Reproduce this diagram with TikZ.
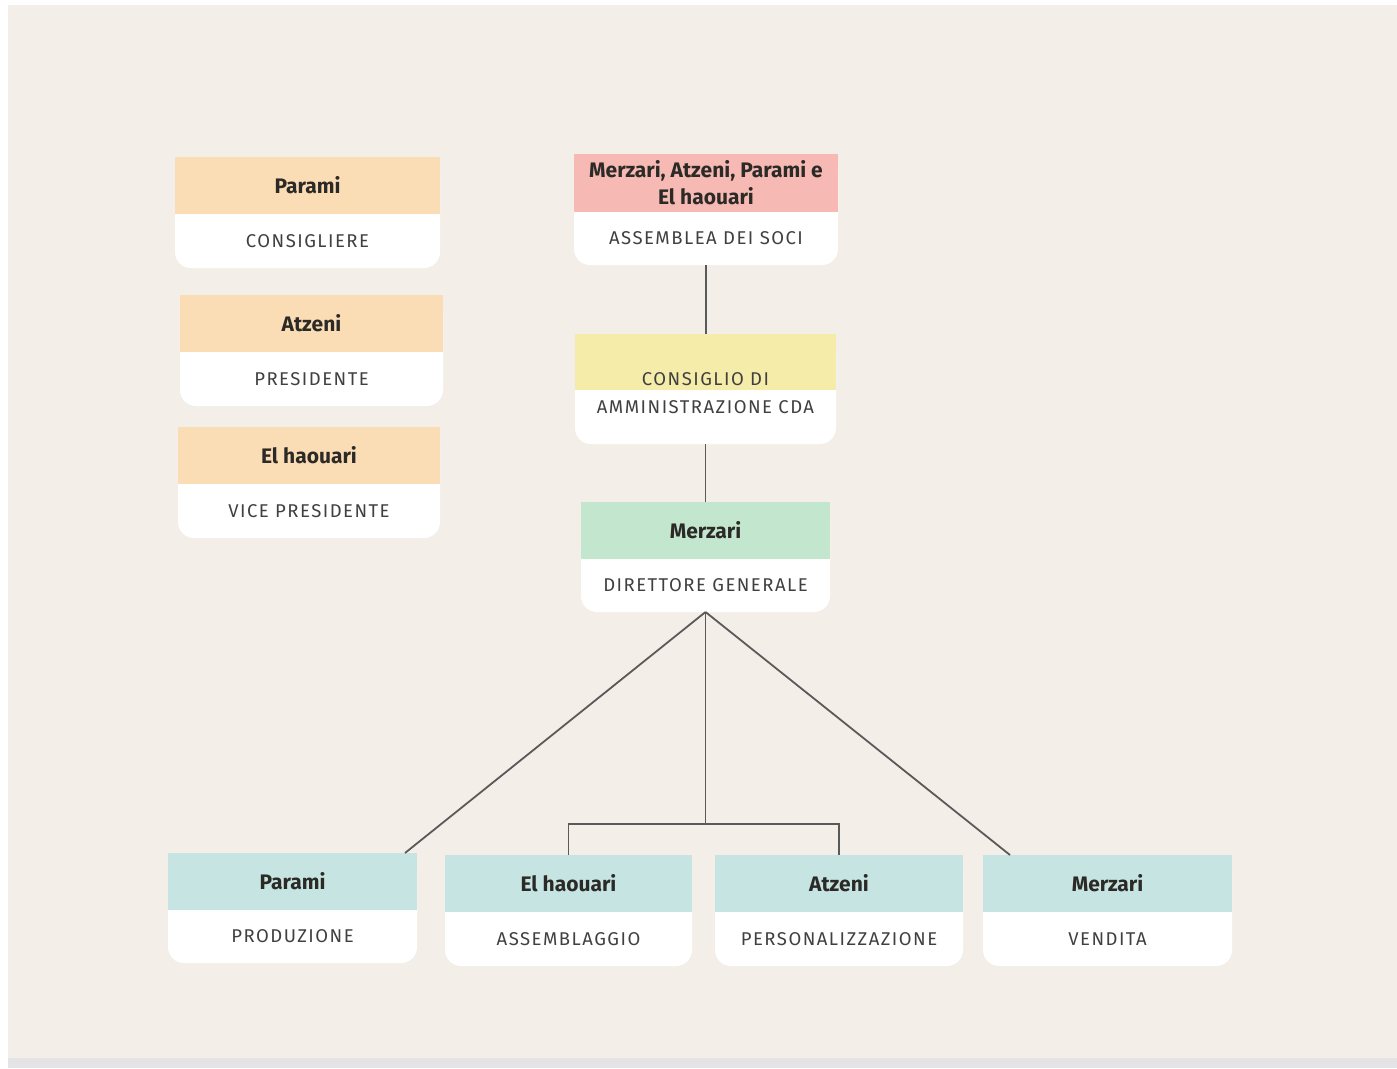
\documentclass[tikz,border=0pt]{standalone}
\usepackage{fontspec}
\setmainfont{Fira Sans}
\newfontfamily\rolefont{Fira Sans}[LetterSpace=8]
\usetikzlibrary{calc}
\definecolor{bgc}{HTML}{F3EEE8}
\definecolor{stripc}{HTML}{E4E4E7}
\definecolor{peach}{HTML}{FBDDB5}
\definecolor{pinkc}{HTML}{F6B9B3}
\definecolor{yellowc}{HTML}{F6ECAA}
\definecolor{greenc}{HTML}{C3E6CE}
\definecolor{tealc}{HTML}{C6E4E2}
\definecolor{linec}{HTML}{5A5A5A}
\definecolor{namec}{HTML}{2C2A27}
\definecolor{rolec}{HTML}{404040}
\tikzset{
  cardbox/.style={fill=white, rounded corners=16pt, inner sep=0pt, outer sep=0pt},
  headbox/.style={inner sep=0pt, outer sep=0pt, font=\bfseries\fontsize{21}{27}\selectfont, text=namec, align=center},
  roletext/.style={inner sep=0pt, outer sep=0pt, font=\rolefont\fontsize{18.5}{28}\selectfont, text=rolec, align=center},
  conn/.style={draw=linec, line width=1.8pt},
}
% #1 name, #2 x1, #3 x2, #4 y1, #5 ymid, #6 y2, #7 colour, #8 head text, #9 role text
\newcommand\orgcard[9]{%
  \node[cardbox, minimum width={(#3-#2)*1pt}, minimum height={(#6-#4)*1pt}] (#1) at ({(#2+#3)/2},{(#4+#6)/2}) {};
  \node[headbox, fill=#7, minimum width={(#3-#2)*1pt}, minimum height={(#5-#4)*1pt}] (#1h) at ({(#2+#3)/2},{(#4+#5)/2}) {#8};
  \node[roletext] (#1r) at ({(#2+#3)/2},{(#5+#6)/2}) {#9};
}
\begin{document}
\begin{tikzpicture}[x=1pt,y=-1pt]
\useasboundingbox (0,0) rectangle (1397,1068);
\fill[white] (0,0) rectangle (1397,1068);
\fill[bgc] (8,5) rectangle (1397,1058);
\fill[stripc] (8,1058) rectangle (1397,1068);

% left column
\orgcard{cons}{175}{440}{157}{214}{268}{peach}{Parami}{CONSIGLIERE}
\orgcard{pres}{180}{443}{295}{352}{406}{peach}{Atzeni}{PRESIDENTE}
\orgcard{vice}{178}{440}{427}{484}{538}{peach}{El haouari}{VICE PRESIDENTE}

% centre column
\orgcard{soci}{574}{838}{154}{212}{265}{pinkc}{Merzari, Atzeni, Parami e\\El haouari}{ASSEMBLEA DEI SOCI}
\node[cardbox, minimum width=261pt, minimum height=110pt] (cda) at (705.5,389) {};
\node[inner sep=0pt, outer sep=0pt, fill=yellowc, minimum width=261pt, minimum height=56pt] (cdah) at (705.5,362) {};
\node[roletext] (cdat) at (705.5,393) {CONSIGLIO DI\\AMMINISTRAZIONE CDA};
\orgcard{dg}{581}{830}{502}{559}{612}{greenc}{Merzari}{DIRETTORE GENERALE}

% bottom row
\orgcard{prod}{168}{417}{853}{910}{963}{tealc}{Parami}{PRODUZIONE}
\orgcard{assm}{445}{692}{855}{912}{966}{tealc}{El haouari}{ASSEMBLAGGIO}
\orgcard{pers}{715}{963}{855}{912}{966}{tealc}{Atzeni}{PERSONALIZZAZIONE}
\orgcard{vend}{983}{1232}{855}{912}{966}{tealc}{Merzari}{VENDITA}

% connectors
\coordinate (jn) at (dg.south |- 0,824);
\draw[conn] (soci.south) -- (soci.south |- cda.north);
\draw[conn] (cda.south) -- (cda.south |- dg.north);
\draw[conn] (dg.south) -- ($(prod.north east)+(-12,0)$);
\draw[conn] (dg.south) -- ($(vend.north west)+(27,0)$);
\draw[conn] (dg.south) -- (jn);
\draw[conn] (assm.north) -- (assm.north |- jn) -- (pers.north |- jn) -- (pers.north);
\end{tikzpicture}
\end{document}
